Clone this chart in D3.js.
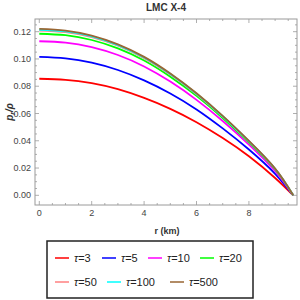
<!DOCTYPE html>
<html>
<head>
<meta charset="utf-8">
<script src="https://cdn.jsdelivr.net/npm/d3@7"></script>
<style>
  body { margin: 0; background: #fff; }
  svg { display: block; font-family: "Liberation Sans", Arial, sans-serif; }
</style>
</head>
<body>
<div id="chart"></div>
<script>
// radius in km, shared by every curve
const radius = [0, 1, 2, 3, 4, 5, 6, 7, 8, 9, 9.69];

// p_r / rho, one array per tau
const tau3   = [0.0855, 0.0847, 0.0822, 0.0778, 0.0714, 0.0634, 0.0536, 0.0420, 0.0286, 0.0127, 0];
const tau5   = [0.1015, 0.1004, 0.0973, 0.0919, 0.0843, 0.0747, 0.0630, 0.0491, 0.0336, 0.0158, 0];
const tau10  = [0.1130, 0.1120, 0.1087, 0.1029, 0.0945, 0.0834, 0.0700, 0.0545, 0.0372, 0.0177, 0];
const tau20  = [0.1185, 0.1174, 0.1139, 0.1078, 0.0989, 0.0870, 0.0729, 0.0567, 0.0388, 0.0190, 0];
const tau50  = [0.1208, 0.1196, 0.1160, 0.1097, 0.1006, 0.0885, 0.0741, 0.0577, 0.0395, 0.0194, 0];
const tau100 = [0.1214, 0.1202, 0.1166, 0.1102, 0.1011, 0.0889, 0.0745, 0.0580, 0.0397, 0.0195, 0];
const tau500 = [0.1220, 0.1208, 0.1171, 0.1107, 0.1015, 0.0893, 0.0748, 0.0582, 0.0399, 0.0196, 0];

const seriesNames = ["3", "5", "10", "20", "50", "100", "500"];
const seriesValues = [tau3, tau5, tau10, tau20, tau50, tau100, tau500];
const seriesColors = ["#ff0000", "#0000ff", "#ff00ff", "#00ff00", "#ff8080", "#00ffff", "#996633"];

const xTicks = [0, 2, 4, 6, 8];
const yTicks = [0, 0.02, 0.04, 0.06, 0.08, 0.10, 0.12];

const width = 300, height = 300;
const frame = { left: 35, right: 297, top: 19, bottom: 205 };

const svg = d3.select("#chart").append("svg")
    .attr("width", width)
    .attr("height", height);

const x = d3.scaleLinear().domain([-0.164, 9.835]).range([frame.left, frame.right]);
const y = d3.scaleLinear().domain([-0.0071, 0.1293]).range([frame.bottom, frame.top]);

const frameColor = "#9a9a9a";
const labelColor = "#444";

// frame
svg.append("rect")
    .attr("x", frame.left).attr("y", frame.top)
    .attr("width", frame.right - frame.left)
    .attr("height", frame.bottom - frame.top)
    .attr("fill", "none").attr("stroke", frameColor).attr("stroke-width", 1);

// ticks on all four sides, minor every 0.5 km / 0.005
const xMinor = d3.range(0, 9.8, 0.5);
const yMinor = d3.range(0, 0.1291, 0.005);
const isXMajor = v => Math.abs(v / 2 - Math.round(v / 2)) < 1e-6;
const isYMajor = v => Math.abs(v / 0.02 - Math.round(v / 0.02)) < 1e-6;

const ticks = svg.append("g").attr("stroke", frameColor).attr("stroke-width", 0.8);
xMinor.forEach(v => {
    const len = isXMajor(v) ? 4 : 2;
    ticks.append("line").attr("x1", x(v)).attr("x2", x(v))
        .attr("y1", frame.bottom).attr("y2", frame.bottom - len);
    ticks.append("line").attr("x1", x(v)).attr("x2", x(v))
        .attr("y1", frame.top).attr("y2", frame.top + len);
});
yMinor.forEach(v => {
    const len = isYMajor(v) ? 4 : 2;
    ticks.append("line").attr("y1", y(v)).attr("y2", y(v))
        .attr("x1", frame.left).attr("x2", frame.left + len);
    ticks.append("line").attr("y1", y(v)).attr("y2", y(v))
        .attr("x1", frame.right).attr("x2", frame.right - len);
});

// tick labels
svg.append("g").selectAll("text")
    .data(xTicks)
    .join("text")
    .attr("x", d => x(d))
    .attr("y", frame.bottom + 11)
    .attr("text-anchor", "middle")
    .attr("font-size", 9)
    .attr("fill", labelColor)
    .text(d => d);

svg.append("g").selectAll("text")
    .data(yTicks)
    .join("text")
    .attr("x", frame.left - 4)
    .attr("y", d => y(d) + 3)
    .attr("text-anchor", "end")
    .attr("font-size", 9)
    .attr("fill", labelColor)
    .text(d => d.toFixed(2));

// curves
const line = d3.line()
    .x((d, i) => x(radius[i]))
    .y(d => y(d))
    .curve(d3.curveNatural);

svg.append("g").selectAll("path")
    .data(seriesValues)
    .join("path")
    .attr("d", d => line(d))
    .attr("fill", "none")
    .attr("stroke", (d, i) => seriesColors[i])
    .attr("stroke-width", 1.8);

// title and axis labels
svg.append("text")
    .attr("x", 166).attr("y", 11)
    .attr("text-anchor", "middle")
    .attr("font-size", 10).attr("font-weight", "bold")
    .attr("fill", "#333")
    .text("LMC X-4");

svg.append("text")
    .attr("x", 167).attr("y", 234)
    .attr("text-anchor", "middle")
    .attr("font-size", 9).attr("font-weight", "bold")
    .attr("fill", "#333")
    .text("r (km)");

const yLab = svg.append("text")
    .attr("transform", "translate(13,112) rotate(-90)")
    .attr("text-anchor", "middle")
    .attr("font-size", 10).attr("font-weight", "bold").attr("font-style", "italic")
    .attr("fill", "#333");
yLab.append("tspan").text("p");
yLab.append("tspan").attr("font-size", 7).attr("dy", 2).text("r");
yLab.append("tspan").attr("dy", -2).text("/ρ");

// legend
svg.append("rect")
    .attr("x", 47).attr("y", 241)
    .attr("width", 206).attr("height", 57)
    .attr("fill", "none").attr("stroke", "#222").attr("stroke-width", 1.5);

const legendPos = [
    [55, 258], [102, 258], [148, 258], [200, 258],
    [55, 282], [107, 282], [170, 282]
];
const legend = svg.append("g").selectAll("g")
    .data(seriesNames)
    .join("g")
    .attr("transform", (d, i) => `translate(${legendPos[i][0]},${legendPos[i][1]})`);

legend.append("line")
    .attr("x1", 0).attr("x2", 14)
    .attr("stroke", (d, i) => seriesColors[i])
    .attr("stroke-width", 1.5);

const legendText = legend.append("text")
    .attr("x", 19).attr("y", 4)
    .attr("font-size", 11)
    .attr("fill", "#222");
legendText.append("tspan").attr("font-style", "italic").text("τ");
legendText.append("tspan").text(d => "=" + d);
</script>
</body>
</html>
